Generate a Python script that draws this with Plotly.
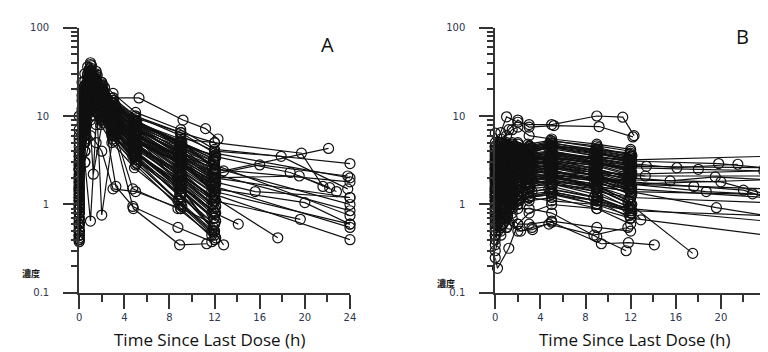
import plotly.graph_objects as go

# ---------------- Panel A data (time since last dose, h / concentration) ----------------
A_S1 = [0, 0.5, 1, 1.5, 2, 3, 5, 9, 12]
A_S2 = [0, 0.25, 0.75, 1.25, 2.25, 3.25, 4.75, 8.75, 11.75]
A_S3 = [0, 0.5, 1, 2, 3, 5, 9, 12, 24]
A_S4 = [0, 0.4, 0.9, 1.4, 1.9, 2.9, 4.9, 9.1, 12.1]
A_S5 = [0, 0.6, 1.1, 1.6, 2.1, 3.1, 5.1, 8.9, 11.9]

A_conc_s1 = [
    [1.2, 18, 32, 25, 20, 12, 7.5, 3.5, 2.2],
    [0.5, 10, 22, 18, 14, 9, 5.5, 2.4, 1.3],
    [2.5, 25, 38, 30, 22, 14, 9, 4.5, 2.8],
    [0.8, 6, 15, 16, 13, 8, 4.5, 1.8, 0.9],
    [3.5, 14, 28, 24, 18, 11, 6.5, 3, 1.6],
    [0.4, 4, 12, 14, 11, 7, 3.5, 1.2, 0.6],
    [1.8, 20, 26, 20, 16, 10, 6, 2.8, 1.5],
    [6, 22, 35, 28, 20, 13, 8, 4.5, 3],
    [0.6, 12, 18, 14, 10, 6, 3, 1, 0.45],
    [1.0, 8, 20, 22, 17, 10, 5, 2, 1.1],
    [10, 30, 40, 32, 24, 15, 10, 6.5, 5],
    [0.45, 5, 9, 12, 10, 6.5, 3.8, 1.5, 0.7],
    [2.2, 16, 24, 19, 15, 9.5, 5.5, 2.2, 1.2],
    [1.5, 11, 30, 26, 19, 12, 7, 3.2, 1.9],
    [0.7, 9, 16, 13, 9, 5.5, 2.8, 0.9, 0.4],
    [4, 18, 22, 20, 17, 11, 7, 3.8, 2.5],
    [0.9, 7, 14, 18, 15, 9, 4, 1.6, 0.8],
    [0.55, 3, 0.65, 8, 12, 8, 4, 1.5, 0.5],
    [1.3, 14, 21, 17, 0.76, 6, 3.2, 1.3, 0.6],
    [3, 22, 33, 25, 19, 13, 8.5, 5, 3.2],
    [0.4, 3, 6, 5, 4, 1.5, 1.4, 0.9, 0.6],
    [1.4, 12, 25, 21, 16, 10, 6, 3.5, 2.6],
    [0.38, 4, 10, 11, 9, 6, 3.6, 1.3, 0.5],
]
A_conc_s2 = [
    [0.6, 8, 24, 20, 14, 8, 4.8, 2, 1],
    [2, 15, 29, 24, 16, 10, 6, 2.6, 1.4],
    [0.4, 6, 19, 16, 11, 6.5, 3.5, 1.1, 0.5],
    [5, 20, 36, 30, 21, 13, 8, 3.8, 2],
    [1.1, 10, 22, 2.2, 12, 7, 4, 1.7, 0.8],
    [0.8, 12, 17, 15, 11, 6, 1.5, 0.9, 0.45],
    [1.6, 9, 13, 12, 9, 1.6, 0.95, 0.55, 0.38],
    [7, 24, 30, 24, 18, 12, 7.5, 4, 2.8],
    [0.9, 11, 23, 19, 13, 8, 5, 2.3, 1.2],
    [2.8, 17, 27, 22, 15, 9, 5.2, 3, 1.7],
]
A_conc_s3 = [
    [1.4, 15, 28, 20, 14, 8, 5, 2.5, 1.8],
    [0.9, 9, 20, 16, 12, 7, 4, 2, 1.2],
    [2.5, 18, 25, 19, 15, 9.5, 6.5, 3.8, 2.0],
    [0.5, 6, 14, 12, 9, 5, 3, 1.4, 0.6],
    [1.2, 12, 22, 17, 12, 7, 4.5, 2.2, 0.85],
    [0.7, 8, 16, 14, 10, 5.5, 3.2, 1.3, 0.4],
    [3.5, 20, 30, 24, 18, 11, 7, 4.2, 2.9],
    [1.8, 13, 24, 19, 14, 8.5, 5.2, 2.6, 1.0],
    [0.6, 7, 18, 15, 11, 6, 3.3, 1.6, 0.55],
    [1.0, 10, 19, 16, 12, 7.5, 4.2, 2.8, 0.75],
]
A_conc_s4 = [
    [0.5, 9, 20, 18, 14, 9, 5, 2.2, 1.1],
    [1.1, 14, 26, 22, 17, 11, 6.5, 3, 1.7],
    [2.8, 19, 31, 26, 20, 13, 8, 4, 2.4],
    [0.7, 6, 16, 14, 11, 7, 4, 1.6, 0.8],
    [1.6, 11, 22, 19, 15, 9.5, 5.8, 2.7, 1.4],
    [4.5, 21, 34, 27, 21, 14, 9, 5, 3.4],
    [0.42, 5, 11, 10, 8, 5, 2.6, 0.95, 0.42],
    [1.9, 15, 27, 22, 16, 10, 6.2, 3.3, 2.1],
    [0.9, 10, 19, 16, 12, 7.5, 4.3, 1.9, 0.95],
    [3.2, 17, 25, 21, 17, 12, 7.8, 4.6, 3.6],
    [0.6, 7, 13, 12, 9.5, 6, 3.4, 1.4, 0.65],
    [2.4, 13, 24, 20, 15, 9, 5.4, 2.9, 1.8],
]
A_conc_s5 = [
    [0.8, 12, 24, 19, 14, 8.5, 4.8, 2.1, 1.0],
    [1.5, 16, 30, 24, 18, 11, 6.8, 3.4, 1.9],
    [0.5, 8, 17, 15, 11, 6.5, 3.7, 1.5, 0.7],
    [3.8, 23, 37, 29, 22, 14, 8.8, 4.8, 3.1],
    [1.2, 11, 20, 17, 13, 8, 4.6, 2.1, 1.1],
    [0.45, 5.5, 12, 11, 8.5, 5.2, 2.9, 1.1, 0.5],
    [2.1, 17, 28, 23, 17, 10.5, 6.3, 3.1, 1.6],
    [1.0, 9, 18, 15, 11, 6.8, 3.9, 1.7, 0.85],
    [5.5, 20, 29, 24, 19, 12.5, 8.2, 4.9, 3.3],
    [0.65, 7.5, 15, 13, 9.8, 6, 3.2, 1.3, 0.55],
    [1.7, 14, 23, 20, 15, 9.2, 5.6, 2.6, 1.45],
    [2.6, 18, 26, 22, 16, 10, 6.1, 3.6, 2.3],
]
A_extra_times = [
    [0, 0.5, 1, 2, 3, 5.3, 9.2, 11.2, 12.3],
    [0, 0.5, 1, 2, 3, 5, 9, 12.8, 22.1],
    [0, 0.5, 1, 2, 3, 5, 9, 12, 19.7, 21.6],
    [0, 0.5, 1, 2, 3, 5, 9, 12, 16, 23.8],
    [0, 0.5, 1, 2, 3, 5, 9, 12, 17.6],
    [0, 0.5, 1, 2, 3, 5, 9, 12, 14.1],
    [0, 0.5, 1, 2, 3, 5, 9, 12, 18.7, 22.2],
    [0, 0.5, 1, 2, 3, 5, 9, 12, 19.5, 22.8],
    [0, 0.5, 1, 2, 3, 5, 9, 12, 17.9, 23.8],
    [0, 0.5, 1, 2, 3, 5, 9, 12, 15.6, 24],
    [0, 0.5, 1, 2, 3, 5, 9, 12, 20, 24],
    [0, 0.5, 1, 2, 3, 5, 9, 12, 19.6],
    [0, 0.5, 1, 2, 3, 4.8, 8.9, 11.3],
    [0, 0.5, 1, 2, 3, 5, 9, 12.8],
]
A_extra_conc = [
    [3, 12, 30, 22, 16, 16, 9, 7.2, 5.5],
    [2, 16, 27, 21, 15, 9, 4.5, 2.4, 4.3],
    [1.5, 14, 26, 20, 14, 8.5, 5.5, 5, 3.8, 1.6],
    [0.9, 10, 21, 17, 12, 7, 4, 2.2, 2.8, 2.1],
    [0.5, 7, 15, 12, 8, 4.5, 2.1, 1.2, 0.42],
    [0.45, 6, 13, 11, 7, 3.8, 1.8, 0.8, 0.6],
    [2, 15, 24, 19, 13, 8, 5, 3.5, 2.3, 1.55],
    [1.1, 11, 20, 16, 11, 6.5, 3.5, 2, 2.1, 1.4],
    [2.5, 18, 29, 23, 16, 10, 6, 4, 3.5, 1.5],
    [1.3, 9, 17, 14, 9.5, 6, 3, 1.8, 1.4, 1.2],
    [0.8, 8, 16, 13, 9, 5.5, 3, 1.5, 1.05, 0.6],
    [0.6, 8, 14, 11, 8, 4.5, 2.4, 1.1, 0.68],
    [0.5, 5, 12, 10, 7, 0.9, 0.35, 0.36],
    [1, 10, 18, 14, 10, 6, 1.6, 0.35],
]

# ---------------- Panel B data ----------------
B_S1 = [0, 0.5, 1, 1.5, 2, 3, 5, 9, 12]
B_S2 = [0, 0.25, 0.75, 1.25, 2.25, 3.25, 4.75, 8.75, 11.75]
B_S3 = [0, 0.5, 1, 1.5, 2, 3, 5, 9, 12, 24]
B_S4 = [0, 0.4, 0.9, 1.4, 1.9, 2.9, 4.9, 9.1, 12.1]
B_S5 = [0, 0.6, 1.1, 1.6, 2.1, 3.1, 5.1, 8.9, 11.9]

B_conc_s1 = [
    [2, 2.5, 3, 3.2, 3.5, 3.8, 4, 3.2, 2.5],
    [1.2, 1.5, 2, 2.2, 2.5, 2.8, 3, 2.2, 1.6],
    [3.5, 4, 4.5, 5, 4.8, 4.5, 5, 4, 3.5],
    [0.8, 1, 1.3, 1.5, 1.8, 2, 2.2, 1.5, 1],
    [2.8, 3.5, 4.8, 4.5, 4, 4.2, 4.5, 3.5, 3],
    [1.5, 1.8, 2.5, 2.8, 3, 2.5, 2.8, 2.1, 1.7],
    [4.5, 4.8, 5, 4.2, 4, 3.8, 4.5, 3.8, 3.2],
    [0.5, 0.7, 0.9, 1.1, 1.3, 1.5, 1.6, 1.2, 0.8],
    [2.2, 2.8, 3.2, 3, 2.8, 3, 3.5, 2.8, 2.2],
    [1, 1.2, 1.6, 2, 2.2, 2.4, 2.5, 1.8, 1.3],
    [3, 3.8, 4.2, 4, 3.6, 3.3, 3.6, 3, 2.6],
    [0.3, 0.5, 0.55, 0.8, 1, 1.2, 1.4, 1.1, 0.7],
    [1.8, 2.2, 2.8, 3.5, 3.2, 2.9, 3.2, 2.5, 2],
    [5, 5.5, 4.5, 4.8, 5, 4.6, 5.2, 4.6, 4],
    [1.3, 1.6, 1.9, 2.4, 2.6, 2.2, 2.4, 1.9, 1.5],
    [2.6, 3, 3.8, 3.6, 3.3, 3.6, 4, 3.3, 2.8],
    [0.9, 1.1, 1.4, 1.7, 2, 1.8, 2, 1.6, 1.2],
    [3.8, 4.2, 3.6, 4, 4.4, 4.2, 4.6, 4.2, 3.8],
    [0.6, 0.8, 1, 1.2, 1.5, 1.6, 1.8, 1.4, 0.9],
    [2.4, 3.2, 3.4, 2.8, 3, 3.4, 3.8, 3, 2.4],
    [6.4, 5, 6, 7, 7.5, 6, 5.5, 4.8, 4.2],
    [0.35, 0.45, 0.55, 0.7, 0.6, 0.6, 0.65, 0.55, 0.5],
]
B_conc_s2 = [
    [1.6, 2, 2.4, 2.6, 2.8, 3, 3.2, 2.6, 2],
    [3.2, 3.6, 4, 4.4, 4.2, 4, 4.3, 3.6, 3.1],
    [0.7, 0.9, 1.2, 1.5, 1.7, 1.9, 2.1, 1.7, 1.1],
    [2.8, 3.3, 3.6, 3.8, 3.5, 3.2, 3.4, 2.9, 2.5],
    [1.1, 1.4, 1.8, 2, 2.3, 2.6, 2.8, 2.3, 1.8],
    [4.2, 4.6, 4.9, 4.5, 4.1, 4.4, 4.8, 3.9, 3.3],
    [0.4, 0.6, 0.7, 0.9, 1.2, 1.4, 1.5, 1.2, 0.9],
    [2, 2.4, 2.9, 3.3, 3.1, 2.8, 3.1, 2.4, 1.9],
    [1.4, 1.7, 2.1, 2.3, 2.5, 2.2, 2.6, 2.1, 1.6],
    [0.6, 0.75, 0.9, 0.6, 0.5, 0.55, 0.6, 0.45, 0.55],
]
B_conc_s3 = [
    [2.5, 3, 3.5, 3.8, 3.6, 3.5, 3.8, 3.4, 3.2, 3.5],
    [1.8, 2.2, 2.6, 2.8, 3, 2.8, 3, 2.8, 2.7, 2.6],
    [1.2, 1.5, 1.9, 2.2, 2.4, 2.5, 2.6, 2.3, 2.2, 2.4],
    [1.5, 1.8, 2.2, 2.5, 2.7, 2.6, 2.8, 2.4, 2.1, 2.1],
    [0.9, 1.1, 1.4, 1.6, 1.8, 2, 2.2, 1.9, 1.7, 1.9],
    [1.4, 1.6, 1.9, 2.1, 2.3, 2.2, 2.4, 2, 1.7, 1.5],
    [0.8, 1, 1.2, 1.4, 1.6, 1.7, 1.9, 1.6, 1.4, 1.3],
    [1.1, 1.3, 1.6, 1.8, 2, 1.9, 2, 1.7, 1.5, 1.2],
    [0.7, 0.9, 1.1, 1.3, 1.5, 1.6, 1.7, 1.4, 1.2, 1.05],
    [0.6, 0.7, 0.9, 1.1, 1.3, 1.2, 1.3, 1, 0.85, 0.75],
    [0.5, 0.6, 0.8, 1, 1.1, 1.2, 1.3, 1.1, 0.9, 0.65],
    [0.45, 0.55, 0.7, 0.9, 1, 1.1, 1.2, 0.9, 0.7, 0.45],
]
B_conc_s4 = [
    [1.7, 2.1, 2.6, 2.9, 3.1, 3.3, 3.5, 2.9, 2.3],
    [0.9, 1.2, 1.5, 1.8, 2, 2.3, 2.4, 1.9, 1.4],
    [3.3, 3.9, 4.4, 4.1, 3.9, 4, 4.4, 3.7, 3.1],
    [0.55, 0.7, 0.9, 1.1, 1.3, 1.4, 1.5, 1.2, 0.85],
    [2.3, 2.7, 3.1, 3.4, 3.2, 3.1, 3.3, 2.7, 2.1],
    [1.3, 1.6, 2, 2.3, 2.5, 2.4, 2.6, 2.1, 1.6],
    [4.6, 5, 4.6, 4.3, 4.5, 4.8, 5.3, 4.4, 3.6],
    [0.75, 0.95, 1.2, 1.4, 1.6, 1.7, 1.9, 1.5, 1.0],
    [2.7, 3.1, 3.5, 3.7, 3.4, 3.6, 3.9, 3.2, 2.7],
    [1.0, 1.3, 1.7, 1.9, 2.1, 2, 2.2, 1.8, 1.3],
    [3.6, 4.3, 4.7, 4.5, 4.2, 4.1, 4.5, 4.1, 3.5],
    [0.5, 0.65, 0.8, 1, 1.15, 1.3, 1.4, 1.1, 0.8],
]
B_conc_s5 = [
    [2.1, 2.6, 3, 3.1, 3.3, 3.6, 3.7, 3.1, 2.4],
    [1.1, 1.4, 1.7, 2.1, 2.4, 2.6, 2.7, 2.1, 1.5],
    [4, 4.4, 4.1, 3.8, 4.2, 4.5, 4.9, 4.2, 3.7],
    [0.65, 0.85, 1.1, 1.3, 1.4, 1.6, 1.7, 1.3, 0.95],
    [2.5, 2.9, 3.3, 3.1, 2.9, 3.2, 3.6, 3, 2.5],
    [1.6, 1.9, 2.3, 2.6, 2.8, 2.7, 2.9, 2.4, 1.9],
    [3.1, 3.7, 4.3, 4.6, 4.4, 4.3, 4.7, 3.9, 3.4],
    [0.85, 1.05, 1.3, 1.6, 1.8, 1.9, 2.1, 1.6, 1.1],
    [1.9, 2.4, 2.9, 3.2, 3, 2.8, 3, 2.5, 2.1],
    [0.45, 0.6, 0.75, 0.95, 1.1, 1.25, 1.35, 1.0, 0.75],
    [2.9, 3.4, 3.8, 4, 3.7, 3.5, 3.8, 3.3, 2.9],
    [1.25, 1.5, 1.8, 2, 2.2, 2.1, 2.3, 1.9, 1.45],
]
B_extra_times = [
    [0, 0.5, 1, 2, 3, 5, 9, 11.3, 12.3],
    [0, 0.5, 1.2, 2, 3, 5.2, 9.2, 12.2],
    [0, 0.2, 1.2, 2, 3, 5, 9, 12],
    [0, 0.5, 1, 2, 3.3, 5, 9.4, 11.8, 14.1],
    [0, 0.5, 1, 2, 3, 5, 9, 11.6],
    [0, 0.5, 1, 2, 3, 5, 9, 12, 17.5],
    [0, 0.5, 1, 2, 3, 5, 9, 12, 16.1, 21.5],
    [0, 0.5, 1, 2, 3, 5, 9, 12, 18, 23.8],
    [0, 0.5, 1, 2, 3, 5, 9, 12, 19.8, 23.9],
    [0, 0.5, 1, 2, 3, 5, 9, 12, 15.5, 19.5, 24],
    [0, 0.5, 1, 2, 3, 5, 9, 12, 20, 24],
    [0, 0.5, 1, 2, 3, 5, 9, 12, 17.6, 22, 24],
    [0, 0.5, 1, 2, 3, 5, 9, 12, 18.7, 22.8],
    [0, 0.5, 1, 2, 3, 5, 9, 12, 19.6, 24],
    [0, 0.5, 1, 2, 3, 5, 9, 12, 12.9],
    [0, 0.5, 1, 2, 3, 5, 9, 12, 13.4],
    [0, 0.5, 1, 2, 3, 5, 9, 12, 13.3],
]
B_extra_conc = [
    [4.5, 6.5, 9.8, 8.5, 8, 8, 10, 9.7, 6],
    [3, 5, 7, 9, 7.5, 7.8, 7.6, 5.8],
    [0.25, 0.19, 0.32, 0.6, 0.8, 1, 0.9, 0.6],
    [0.6, 0.7, 0.8, 0.5, 0.52, 0.63, 0.36, 0.37, 0.35],
    [0.8, 1, 1.2, 0.9, 0.9, 0.8, 0.43, 0.3],
    [1.5, 1.8, 2, 2.2, 1.9, 1.7, 1.5, 1.0, 0.28],
    [2.2, 2.6, 3, 3.2, 3.4, 3.6, 3.3, 2.9, 2.6, 2.85],
    [1.9, 2.3, 2.7, 3, 2.9, 3.1, 2.8, 2.6, 2.5, 2.4],
    [2.6, 3, 3.3, 3.6, 3.4, 3.2, 3.4, 3.1, 2.9, 2.6],
    [1.4, 1.7, 2, 2.2, 2.4, 2.3, 2.2, 2, 1.85, 2.05, 1.9],
    [1.3, 1.5, 1.8, 2, 2.2, 2.1, 2, 1.9, 1.8, 1.3],
    [1.2, 1.4, 1.7, 1.9, 2, 2.1, 2, 1.8, 1.6, 1.45, 1.2],
    [1, 1.3, 1.6, 1.8, 1.9, 2, 1.9, 1.7, 1.4, 1.32],
    [1.1, 1.3, 1.5, 1.6, 1.7, 1.8, 1.6, 1.4, 0.92, 0.75],
    [0.9, 1.1, 1.3, 1.4, 1.2, 1.1, 1, 0.9, 0.67],
    [2.5, 2.9, 3.2, 3.4, 3.1, 3.3, 3, 2.8, 2.7],
    [1.9, 2.1, 2.5, 2.6, 2.4, 2.6, 2.3, 2.2, 2.1],
]

X_TICKS = [0, 4, 8, 12, 16, 20, 24]
X_MINOR = [2, 6, 10, 14, 18, 22]
Y_TICKS = [0.1, 1, 10, 100]
Y_TICKTEXT = ["0.1", "1", "10", "100"]
Y_MINOR = [0.2, 0.3, 0.4, 0.5, 0.6, 0.7, 0.8, 0.9,
           2, 3, 4, 5, 6, 7, 8, 9,
           20, 30, 40, 50, 60, 70, 80, 90]
X_TITLE = "Time Since Last Dose (h)"


def build(groups):
    xs, ys = [], []
    for times_list, conc_list in groups:
        for t, c in zip(times_list, conc_list):
            xs.extend(t + [None])
            ys.extend(c + [None])
    return xs, ys


ax, ay = build([
    ([A_S1] * len(A_conc_s1), A_conc_s1),
    ([A_S2] * len(A_conc_s2), A_conc_s2),
    ([A_S3] * len(A_conc_s3), A_conc_s3),
    ([A_S4] * len(A_conc_s4), A_conc_s4),
    ([A_S5] * len(A_conc_s5), A_conc_s5),
    (A_extra_times, A_extra_conc),
])
bx, by = build([
    ([B_S1] * len(B_conc_s1), B_conc_s1),
    ([B_S2] * len(B_conc_s2), B_conc_s2),
    ([B_S3] * len(B_conc_s3), B_conc_s3),
    ([B_S4] * len(B_conc_s4), B_conc_s4),
    ([B_S5] * len(B_conc_s5), B_conc_s5),
    (B_extra_times, B_extra_conc),
])

INK = "#111111"
fig = go.Figure()
for xs, ys, xa, ya in [(ax, ay, "x", "y"), (bx, by, "x2", "y2")]:
    fig.add_trace(go.Scatter(
        x=xs, y=ys, xaxis=xa, yaxis=ya, mode="lines+markers",
        line=dict(color=INK, width=1.2),
        marker=dict(symbol="circle-open", size=10, color=INK, line=dict(width=1.2, color=INK)),
        cliponaxis=False, showlegend=False, connectgaps=False,
    ))

W, H = 768, 352
ydom = [(H - 289) / H, (H - 15) / H]
tickfont = dict(family="DejaVu Sans", size=10, color="#2e3550")


def xaxis_cfg(x0, x1):
    return dict(domain=[x0 / W, x1 / W], range=[0, 24], tickvals=X_TICKS,
                ticks="outside", ticklen=14, tickwidth=1.5, tickcolor="#333",
                showline=True, linewidth=2, linecolor="#333", showgrid=False, zeroline=False,
                tickfont=tickfont, ticklabeloverflow="allow",
                minor=dict(tickvals=X_MINOR, ticks="outside", ticklen=7, tickwidth=1.5, tickcolor="#333", showgrid=False))


def yaxis_cfg(anchor):
    return dict(domain=ydom, type="log", range=[-1, 2], tickvals=Y_TICKS, ticktext=Y_TICKTEXT,
                ticks="outside", ticklen=14, tickwidth=1.5, tickcolor="#333", anchor=anchor,
                showline=True, linewidth=2, linecolor="#333", showgrid=False, zeroline=False,
                tickfont=tickfont, ticklabelstandoff=12,
                minor=dict(tickvals=Y_MINOR, ticks="outside", ticklen=6, tickwidth=1.5, tickcolor="#333", showgrid=False))


fig.update_layout(
    width=W, height=H, margin=dict(l=0, r=0, t=0, b=0),
    paper_bgcolor="white", plot_bgcolor="white",
    xaxis=dict(xaxis_cfg(69, 343), anchor="y"),
    yaxis=yaxis_cfg("x"),
    xaxis2=dict(xaxis_cfg(490, 764), anchor="y2"),
    yaxis2=yaxis_cfg("x2"),
)

ann_font = dict(family="Open Sans", size=17, color="#111")
annotations = [
    dict(text=X_TITLE, x=201 / W, y=1 - 337 / H, xref="paper", yref="paper",
         showarrow=False, font=ann_font, xanchor="center", yanchor="middle"),
    dict(text=X_TITLE, x=631 / W, y=1 - 337 / H, xref="paper", yref="paper",
         showarrow=False, font=ann_font, xanchor="center", yanchor="middle"),
    dict(text="A", x=320 / W, y=1 - 33 / H, xref="paper", yref="paper",
         showarrow=False, font=dict(family="Open Sans", size=20, color="#111"),
         xanchor="center", yanchor="middle"),
    dict(text="B", x=740 / W, y=1 - 24 / H, xref="paper", yref="paper",
         showarrow=False, font=dict(family="Open Sans", size=20, color="#111"),
         xanchor="center", yanchor="middle"),
    dict(text="<b>濃度</b>", x=20 / W, y=1 - 269 / H, xref="paper", yref="paper",
         showarrow=False, font=dict(family="Noto Sans CJK JP", size=9, color="#111"),
         xanchor="center", yanchor="middle"),
    dict(text="<b>濃度</b>", x=440 / W, y=1 - 279 / H, xref="paper", yref="paper",
         showarrow=False, font=dict(family="Noto Sans CJK JP", size=9, color="#111"),
         xanchor="center", yanchor="middle"),
]
fig.update_layout(annotations=annotations)

fig.write_html("out.html")
